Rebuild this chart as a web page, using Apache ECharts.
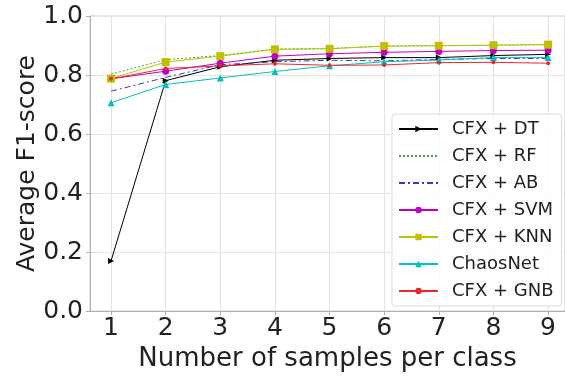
<!DOCTYPE html>
<html><head><meta charset="utf-8">
<script src="https://cdn.jsdelivr.net/npm/echarts@6/dist/echarts.min.js"></script>
<style>html,body{margin:0;padding:0;background:#fff}#c{width:565px;height:377px}</style>
</head><body><div id="c"></div>
<script>
const samples = [1, 2, 3, 4, 5, 6, 7, 8, 9];
const yTicks = [0.0, 0.2, 0.4, 0.6, 0.8, 1.0];
const dt   = [0.170, 0.781, 0.828, 0.850, 0.856, 0.859, 0.859, 0.866, 0.870];
const rf   = [0.803, 0.852, 0.866, 0.888, 0.890, 0.898, 0.900, 0.901, 0.903];
const ab   = [0.745, 0.792, 0.835, 0.845, 0.850, 0.848, 0.853, 0.856, 0.856];
const svm  = [0.787, 0.813, 0.840, 0.864, 0.872, 0.877, 0.880, 0.883, 0.884];
const knn  = [0.788, 0.844, 0.864, 0.887, 0.889, 0.898, 0.899, 0.901, 0.903];
const chaos= [0.706, 0.768, 0.790, 0.812, 0.831, 0.845, 0.851, 0.859, 0.859];
const gnb  = [0.787, 0.822, 0.831, 0.838, 0.833, 0.834, 0.842, 0.843, 0.840];
const legendNames = ['CFX + DT', 'CFX + RF', 'CFX + AB', 'CFX + SVM', 'CFX + KNN', 'ChaosNet', 'CFX + GNB'];

const pair = arr => arr.map((v, i) => [samples[i], v]);
const font = 'DejaVu Sans';
function mk(name, data, color, type, symbol, size, rot) {
  return {
    name, type: 'line', data: pair(data),
    lineStyle: { color, width: 1, type },
    itemStyle: { color },
    symbol: symbol || 'none', symbolSize: size || 0, symbolRotate: rot || 0,
    showSymbol: !!symbol, animation: false
  };
}
const noMarker = ['CFX + RF', 'CFX + AB'];
const chart = echarts.init(document.getElementById('c'), null, { renderer: 'canvas' });
chart.setOption({
  animation: false,
  grid: { left: 90, right: 0, top: 16, bottom: 61, show: true, borderColor: '#c8c8c8', borderWidth: 1 },
  xAxis: {
    type: 'value', min: 0.615, max: 9.31,
    name: 'Number of samples per class', nameLocation: 'middle', nameGap: 32,
    nameTextStyle: { fontFamily: font, fontSize: 26, color: '#222' },
    axisLine: { lineStyle: { color: '#b0b0b0' } },
    axisTick: { show: true, length: 4, customValues: samples, lineStyle: { color: '#b0b0b0' } },
    axisLabel: { customValues: samples, fontFamily: font, fontSize: 25, color: '#222', margin: 5 },
    splitLine: { show: true, lineStyle: { color: '#e3e3e3', width: 1 } }
  },
  yAxis: {
    type: 'value', min: 0, max: 1, interval: 0.2,
    name: 'Average F1-score', nameLocation: 'middle', nameGap: 50, nameMoveOverlap: false,
    nameTextStyle: { fontFamily: font, fontSize: 25, color: '#222' },
    axisLine: { show: true, lineStyle: { color: '#b0b0b0' } },
    axisTick: { show: true, length: 4, lineStyle: { color: '#b0b0b0' } },
    axisLabel: { fontFamily: font, fontSize: 25, color: '#222', margin: 7, formatter: v => v.toFixed(1) },
    splitLine: { show: true, lineStyle: { color: '#e3e3e3', width: 1 } }
  },
  legend: {
    orient: 'vertical', left: 392, top: 114,
    itemWidth: 39, itemHeight: 8, itemGap: 9,
    padding: [6, 8, 6, 6],
    backgroundColor: 'rgba(255,255,255,0.85)', borderColor: '#dcdcdc', borderWidth: 1, borderRadius: 3,
    textStyle: { fontFamily: font, fontSize: 18, color: '#222', lineHeight: 18, padding: [0, 0, 0, 9] },
    data: legendNames.map(n => noMarker.includes(n) ? { name: n, itemStyle: { opacity: 0 } } : n)
  },
  series: [
    mk('CFX + DT', dt, '#000000', 'solid', 'triangle', 6, -90),
    mk('CFX + RF', rf, '#3aa83a', [2, 2]),
    mk('CFX + AB', ab, '#3b3bb0', [6, 3, 2, 3]),
    mk('CFX + SVM', svm, '#c000c0', 'solid', 'circle', 7),
    mk('CFX + KNN', knn, '#c0c000', 'solid', 'rect', 8),
    mk('ChaosNet', chaos, '#00c0c0', 'solid', 'triangle', 7),
    mk('CFX + GNB', gnb, '#e8282c', 'solid', 'circle', 4)
  ]
});
</script></body></html>
